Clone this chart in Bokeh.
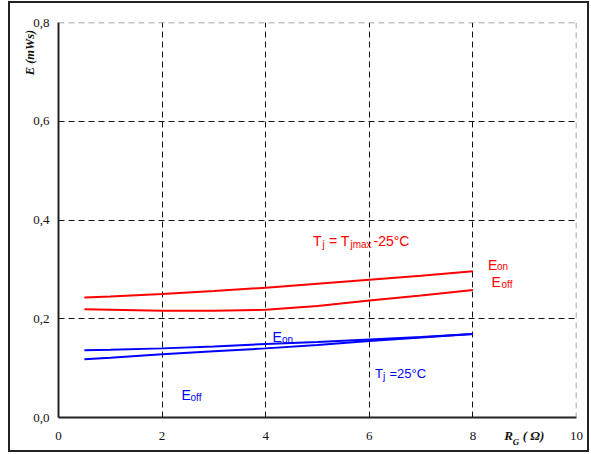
from bokeh.plotting import figure
from bokeh.models import FixedTicker, Label, Span, LinearAxis, InlineStyleSheet
from bokeh.embed import file_html
from bokeh.resources import INLINE

# ---- data ----
rg = [0.5, 1, 2, 3, 4, 5, 6, 7, 8]
eon_hot = [0.243, 0.245, 0.250, 0.256, 0.263, 0.271, 0.279, 0.287, 0.296]
eoff_hot = [0.219, 0.218, 0.216, 0.216, 0.218, 0.226, 0.237, 0.247, 0.258]
eon_25 = [0.136, 0.137, 0.140, 0.144, 0.149, 0.153, 0.158, 0.163, 0.169]
eoff_25 = [0.118, 0.121, 0.128, 0.134, 0.140, 0.147, 0.155, 0.162, 0.169]

x_ticks = [0, 2, 4, 6, 8, 10]
x_tick_labels = ["0", "2", "4", "6", "8", "10"]
y_ticks = [0.0, 0.2, 0.4, 0.6, 0.8]
y_tick_labels = ["0,0", "0,2", "0,4", "0,6", "0,8"]

y_title = "E (mWs)"
x_title_main = "R"
x_title_sub = "G"
x_title_unit = "( Ω)"

RED = "#ff0000"
BLUE = "#0000ff"
INK = "#111111"
SANS = "Liberation Sans"
SERIF = "Liberation Serif"

# canvas placed at page (10, 3); the outer frame line is a 2px box-shadow
OX, OY = 10, 3
W, H = 577, 447
# plot frame in page coordinates
PX0, PY0, PX1, PY1 = 58, 417, 576, 22
FL, FT = PX0 - OX, PY1 - OY
FR, FB = (OX + W) - PX1, (OY + H) - PY0

p = figure(width=W, height=H, x_range=(0, 10), y_range=(0, 0.8),
           output_backend="svg", toolbar_location=None,
           min_border_left=FL, min_border_right=FR,
           min_border_top=FT, min_border_bottom=FB)
p.margin = (OY, 0, 0, OX)
p.stylesheets = [InlineStyleSheet(
    css=":host { box-shadow: 0 0 0 2px #222222; }")]
p.background_fill_color = "white"
p.border_fill_color = "white"
p.outline_line_color = None

# main axes
p.xaxis.ticker = FixedTicker(ticks=x_ticks)
p.xaxis.major_label_overrides = dict(zip(x_ticks, x_tick_labels))
p.yaxis.ticker = FixedTicker(ticks=y_ticks)
p.yaxis.major_label_overrides = dict(zip(y_ticks, y_tick_labels))
for ax in (p.xaxis[0], p.yaxis[0]):
    ax.major_tick_line_color = None
    ax.minor_tick_line_color = None
    ax.major_tick_out = 0
    ax.major_tick_in = 0
    ax.minor_tick_out = 0
    ax.axis_line_color = "#222222"
    ax.axis_line_width = 2
    ax.major_label_text_font = SERIF
    ax.major_label_text_font_size = "13px"
    ax.major_label_text_color = INK
p.xaxis.major_label_standoff = 14
p.yaxis.major_label_standoff = 9


def px_to_x(px):
    return (px - PX0) / (PX1 - PX0) * 10


def py_to_y(py):
    return (PY0 - py) / (PY0 - PY1) * 0.8


def title_axis(ticks, labels, size, standoff, orientation="horizontal"):
    # an extra axis whose only tick labels are the axis-title pieces
    return LinearAxis(ticker=FixedTicker(ticks=ticks),
                      major_label_overrides=dict(zip(ticks, labels)),
                      axis_line_color=None, major_tick_line_color=None,
                      minor_tick_line_color=None,
                      major_tick_out=0, major_tick_in=0, minor_tick_out=0,
                      major_label_text_font=SERIF,
                      major_label_text_font_style="bold italic",
                      major_label_text_font_size=f"{size}px",
                      major_label_text_color=INK,
                      major_label_standoff=standoff,
                      major_label_orientation=orientation)


yt = round(py_to_y(52), 4)
p.add_layout(title_axis([yt], [y_title], 12.5, -7, "vertical"), "left")

xr = round(px_to_x(508), 4)
xu = round(px_to_x(533), 4)
xg = round(px_to_x(515.5), 4)
p.add_layout(title_axis([xr, xu], [x_title_main, x_title_unit], 13, -15), "below")
p.add_layout(title_axis([xg], [x_title_sub], 9, -9), "below")

# grid
p.xgrid.ticker = FixedTicker(ticks=x_ticks[1:-1])
p.ygrid.ticker = FixedTicker(ticks=y_ticks[1:-1])
for g in (p.xgrid[0], p.ygrid[0]):
    g.grid_line_color = INK
    g.grid_line_dash = "6 4"
    g.grid_line_width = 1

p.add_layout(Span(location=y_ticks[-1], dimension="width", line_color="#888888",
                  line_dash="6 4", line_width=1.5))
p.add_layout(Span(location=x_ticks[-1], dimension="height", line_color="#888888",
                  line_dash="6 4", line_width=1.5))

# curves
p.line(rg, eon_hot, line_color=RED, line_width=2)
p.line(rg, eoff_hot, line_color=RED, line_width=2)
p.line(rg, eon_25, line_color=BLUE, line_width=2)
p.line(rg, eoff_25, line_color=BLUE, line_width=2)


def lab(text, px, py, size, color, font=SANS, style="normal"):
    p.add_layout(Label(text=text, x=px - PX0, y=PY0 - py, x_units="screen",
                       y_units="screen", text_font=font,
                       text_font_size=f"{size}px", text_color=color,
                       text_font_style=style, text_align="left",
                       text_baseline="alphabetic"))


# red annotations
lab("T", 312.5, 240.3, 14, RED)
lab("j", 322, 243.5, 10, RED)
lab("= T", 328.5, 240.3, 14, RED)
lab("jmax", 350, 243.5, 10, RED)
lab("-25°C", 373, 240.3, 14, RED)
lab("E", 487.5, 264, 14, RED)
lab("on", 496.5, 266, 10, RED)
lab("E", 491, 281, 14, RED)
lab("off", 501, 283.5, 10, RED)

# blue annotations
lab("E", 272, 336.3, 14, BLUE)
lab("on", 281.5, 339, 10, BLUE)
lab("T", 374.5, 373.3, 13, BLUE)
lab("j", 382.5, 376, 10, BLUE)
lab("=25°C", 389, 373.3, 13, BLUE)
lab("E", 181, 394.7, 14, BLUE)
lab("off", 190, 397, 10, BLUE)

open("out.html", "w").write(file_html(p, INLINE))
